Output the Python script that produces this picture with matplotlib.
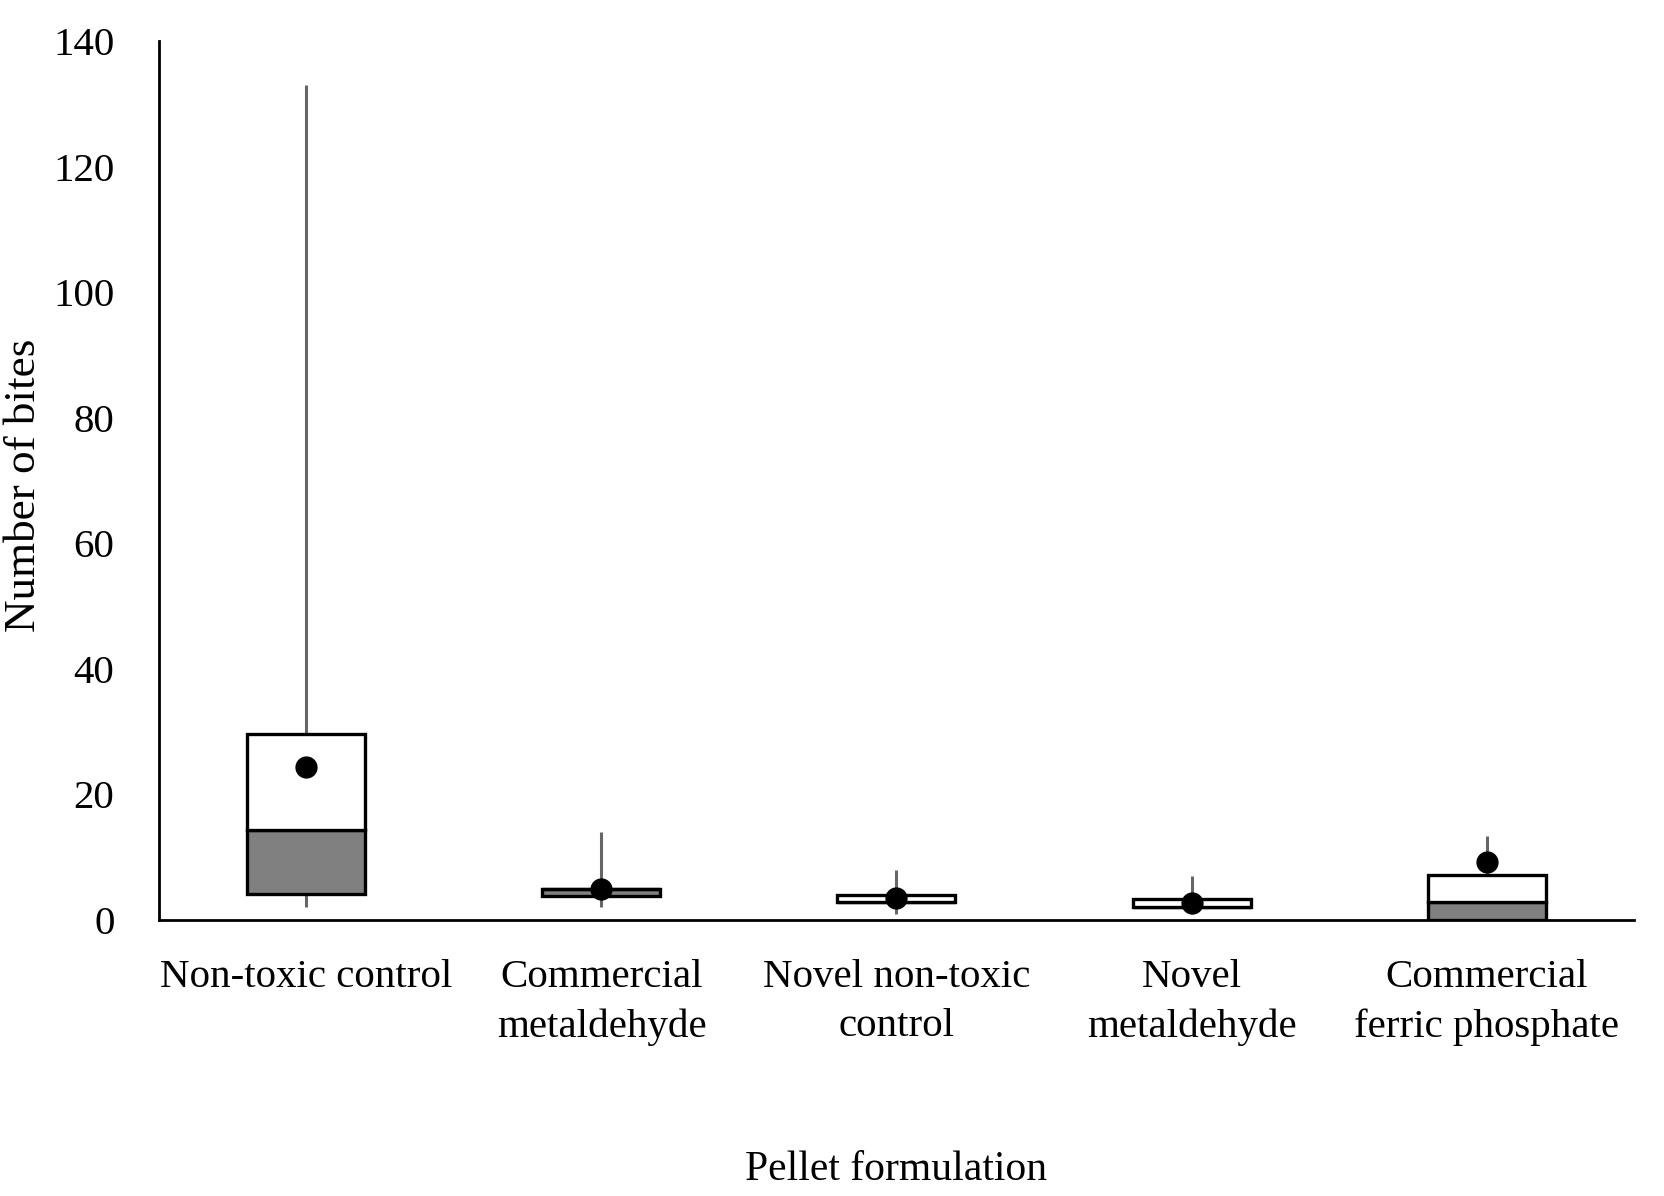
import matplotlib
matplotlib.use("Agg")
import matplotlib.pyplot as plt
import numpy as np

categories = ["Non-toxic control", "Commercial\nmetaldehyde", "Novel non-toxic\ncontrol",
              "Novel\nmetaldehyde", "Commercial\nferric phosphate"]
whisker_min = [2, 2, 1, 1, 0]
q1 = [4.1, 3.8, 2.8, 2.0, 0.0]
median = [14.3, 4.9, 2.8, 2.0, 2.9]
q3 = [29.7, 4.9, 4.0, 3.3, 7.2]
whisker_max = [133, 14, 8, 7, 13.3]
means = [24.4, 5.0, 3.45, 2.75, 9.3]
yticks = [0, 20, 40, 60, 80, 100, 120, 140]

plt.rcParams['font.family'] = ['Liberation Serif', 'DejaVu Serif']

fig = plt.figure(figsize=(16.64, 11.96), dpi=100)
ax_left, ax_w = 0.0955, 0.8865
ax = fig.add_axes([ax_left, 0.2308, ax_w, 0.7349])

x = np.arange(len(categories))
w = 0.4
ax.vlines(x, whisker_min, whisker_max, color='#666666', lw=2.2, zorder=1)
lower = np.array(median) - np.array(q1)
upper = np.array(q3) - np.array(median)
ax.bar(x, lower, width=w, bottom=q1, color='#808080', edgecolor='black', lw=2.4, zorder=2)
ax.bar(x, upper, width=w, bottom=median, color='white', edgecolor='black', lw=2.4, zorder=2)
ax.plot(x, means, 'o', color='black', ms=15, zorder=3)

ax.set_xlim(-0.5, 4.5)
ax.set_ylim(0, 140)
ax.set_yticks(yticks)
ax.set_xticks(x)
ax.set_xticklabels(categories, multialignment='center', linespacing=1.45)
ax.tick_params(axis='both', length=0, labelsize=29.5)
ax.tick_params(axis='y', pad=32)
ax.tick_params(axis='x', pad=28)
for s in ['top', 'right']:
    ax.spines[s].set_visible(False)
for s in ['left', 'bottom']:
    ax.spines[s].set_linewidth(2)
    ax.spines[s].set_color('black')

fig.text(ax_left + ax_w / 2, 1 - 1170 / 1196, "Pellet formulation", ha='center', va='center', fontsize=30)
fig.text(24 / 1664, 1 - 485 / 1196, "Number of bites", ha='center', va='center', rotation=90, fontsize=32.5)

fig.savefig("out.png", dpi=100)
